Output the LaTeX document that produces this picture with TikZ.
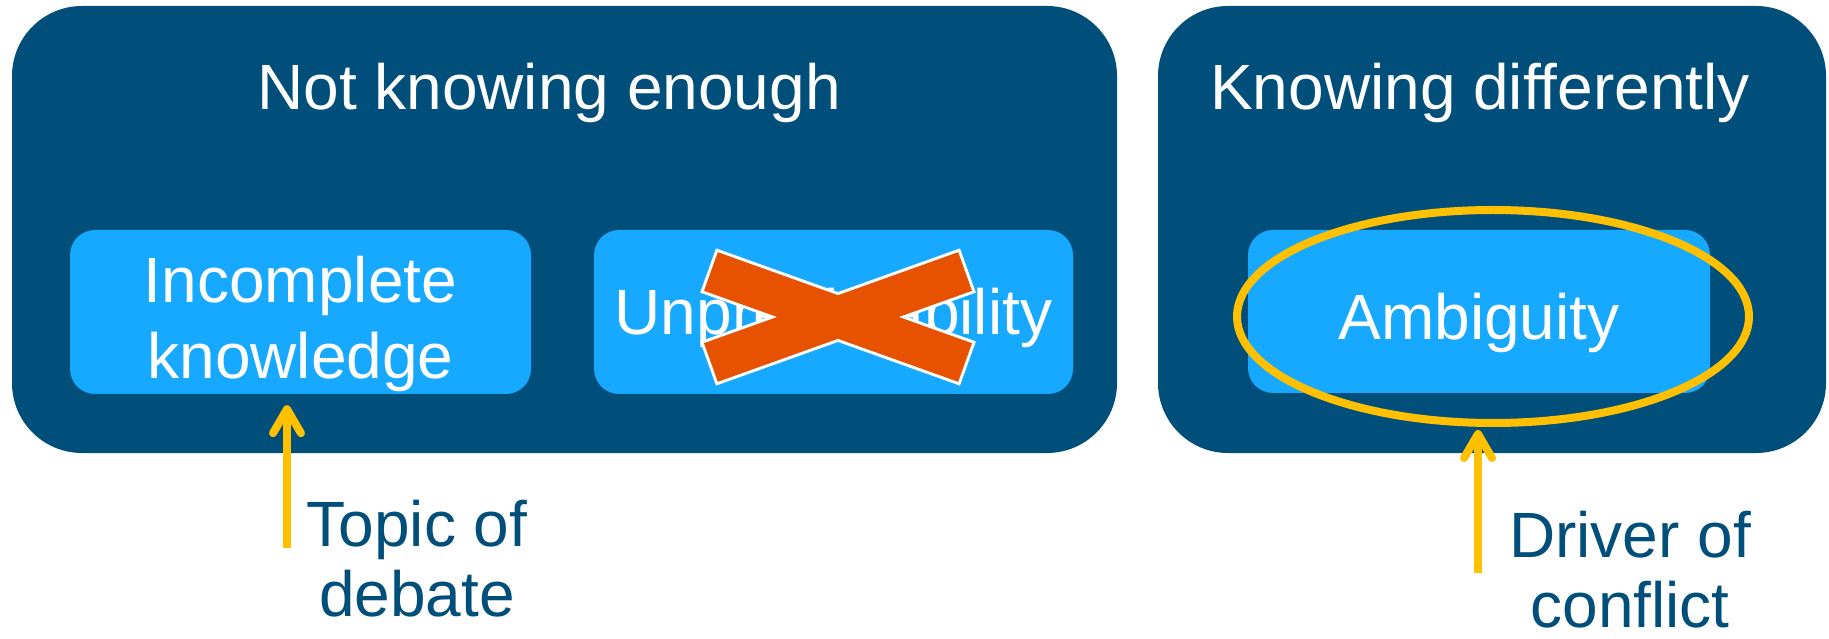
\documentclass[tikz,border=0pt]{standalone}
\usepackage{fontspec}
\setmainfont{Liberation Sans}
\usetikzlibrary{arrows.meta, positioning, shapes.geometric}

\definecolor{navy}{RGB}{0,78,122}
\definecolor{sky}{RGB}{22,169,255}
\definecolor{flame}{RGB}{230,82,0}
\definecolor{gold}{RGB}{255,192,0}

\begin{document}
\begin{tikzpicture}[
    x=1pt, y=1pt,
    bigbox/.style={fill=navy, rounded corners=70pt, minimum height=447pt, inner sep=0pt},
    smallbox/.style={fill=sky, rounded corners=25pt, minimum height=164pt, inner sep=0pt,
        text=white, align=center, font=\fontsize{64}{76}\selectfont},
    heading/.style={text=white, anchor=base, inner sep=0pt, font=\fontsize{64}{76}\selectfont},
    note/.style={text=navy, anchor=north, align=center, inner sep=0pt, font=\fontsize{64}{70}\selectfont},
    ring/.style={ellipse, draw=gold, line width=8pt, inner sep=0pt, outer sep=0pt},
    pointer/.style={draw=gold, line width=8pt, -{Straight Barb[length=24pt, width=28pt, round]}}
]
    \useasboundingbox (0,0) rectangle (1829,638);

    % outer panels
    \node[bigbox, minimum width=1105pt] (enough) at (564.5,408.5) {};
    \node[bigbox, minimum width=668pt] (differently) at (1492,408.5) {};
    \node[heading] (enoughtitle) at (549,528) {Not knowing enough};
    \node[heading] (differentlytitle) at (1480,528) {Knowing differently};

    % inner boxes
    \node[smallbox, minimum width=461pt, text height=134pt, text depth=0pt] (incomplete) at (300.5,326) {Incomplete\\knowledge};
    \node[smallbox, minimum width=479pt, text height=46pt, text depth=0pt] (unpredict) at (833.5,326) {Unpredictability};
    \node[smallbox, minimum width=462pt, minimum height=163pt, text height=57pt, text depth=0pt] (ambig) at (1479,326.5) {Ambiguity};

    % crossed out
    \foreach \ang in {-19.7, 19.7}
        \draw[white, line width=6pt, rotate around={\ang:(838,321)}] (703,300.5) rectangle (973,341.5);
    \foreach \ang in {-19.7, 19.7}
        \fill[flame, rotate around={\ang:(838,321)}] (703,300.5) rectangle (973,341.5);

    \node[ring, minimum width=512pt, minimum height=213pt] (circled) at (1493,321.5) {};

    % remarks
    \coordinate (topictail) at (287,90);
    \coordinate (drivertail) at (1478,65);
    \draw[pointer, shorten >=11pt] (topictail) -- (topictail |- incomplete.south);
    \draw[pointer, shorten >=7pt] (drivertail) -- (drivertail |- circled.south);
    \node[note] (topic) at (417,138) {Topic of\\debate};
    \node[note] (driver) at (1630,127) {Driver of\\conflict};
\end{tikzpicture}
\end{document}
